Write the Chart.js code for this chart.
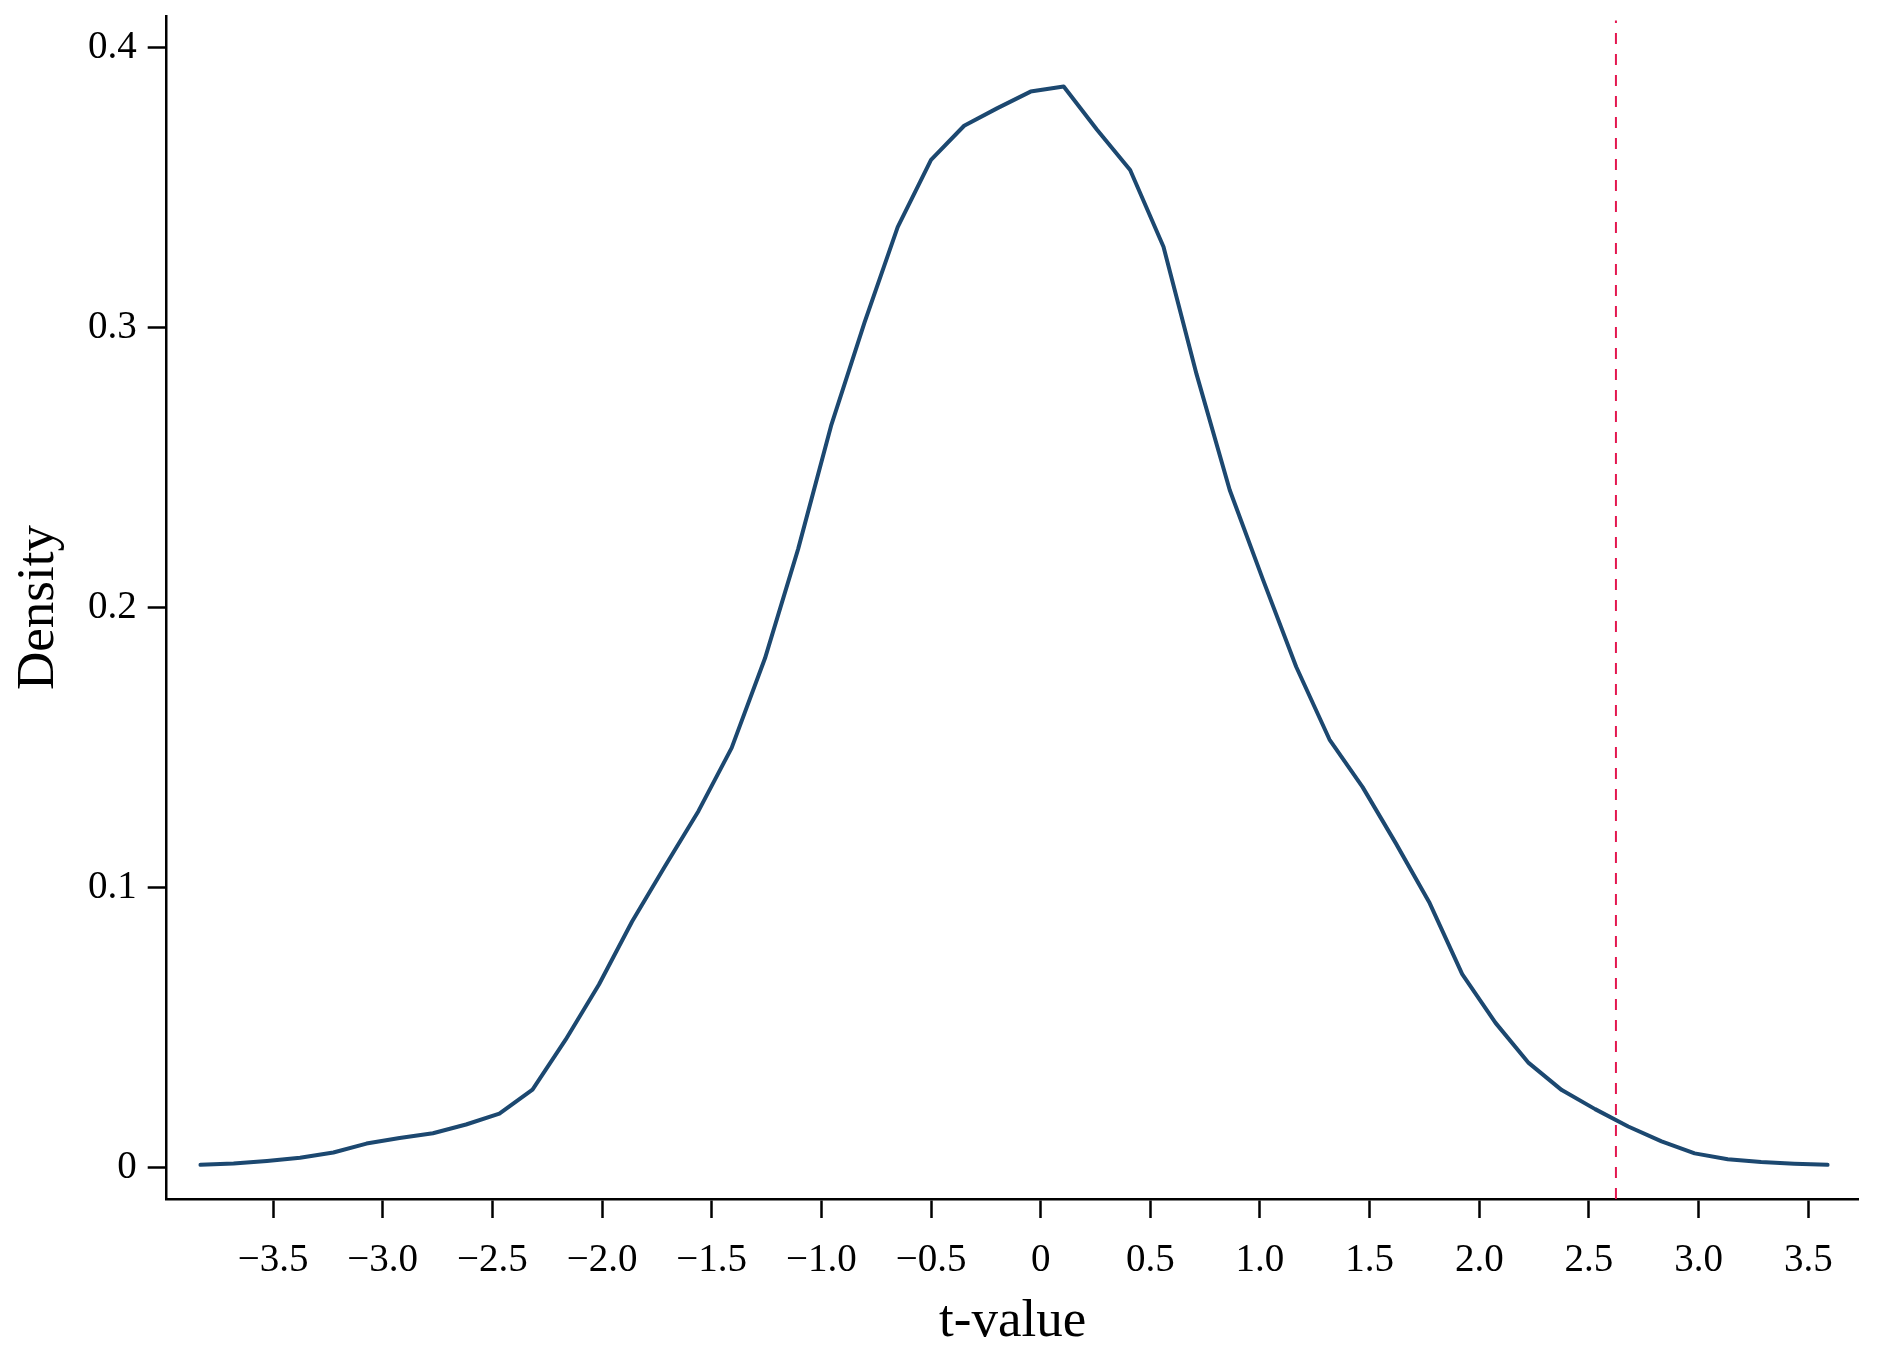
<!DOCTYPE html>
<html>
<head>
<meta charset="utf-8">
<script src="https://cdn.jsdelivr.net/npm/chart.js@4.4.1/dist/chart.umd.min.js"></script>
<style>
  body { margin: 0; background: #fff; }
  #wrap { width: 1880px; height: 1357px; }
</style>
</head>
<body>
<div id="wrap"><canvas id="density_chart"></canvas></div>
<script>
// kernel density of t-values
var tValues = [-3.831, -3.680, -3.528, -3.377, -3.225, -3.074, -2.923, -2.771, -2.620, -2.468,
  -2.317, -2.166, -2.014, -1.863, -1.711, -1.560, -1.409, -1.257, -1.106, -0.954,
  -0.803, -0.652, -0.500, -0.349, -0.197, -0.046, 0.105, 0.257, 0.408, 0.560,
  0.711, 0.862, 1.014, 1.165, 1.317, 1.468, 1.619, 1.771, 1.922, 2.074,
  2.225, 2.376, 2.528, 2.679, 2.831, 2.982, 3.133, 3.285, 3.436, 3.588];
var densityValues = [0.0011, 0.0016, 0.0025, 0.0036, 0.0055, 0.0087, 0.0107, 0.0124, 0.0155, 0.0194,
  0.0280, 0.0458, 0.0655, 0.0880, 0.1080, 0.1275, 0.1500, 0.1820, 0.2210, 0.2655,
  0.3020, 0.3360, 0.3600, 0.3722, 0.3785, 0.3844, 0.3862, 0.3708, 0.3564, 0.3290,
  0.2834, 0.2421, 0.2100, 0.1790, 0.1530, 0.1360, 0.1160, 0.0950, 0.0692, 0.0518,
  0.0375, 0.0278, 0.0210, 0.0148, 0.0095, 0.0052, 0.0031, 0.0021, 0.0015, 0.0011];

// observed t-value (dashed line)
var criticalT = 2.623;

var xTickValues = [-3.5, -3.0, -2.5, -2.0, -1.5, -1.0, -0.5, 0, 0.5, 1.0, 1.5, 2.0, 2.5, 3.0, 3.5];
var yTickValues = [0, 0.1, 0.2, 0.3, 0.4];

var xMin = -3.985, xMax = 3.729;
var yMin = -0.0111, yMax = 0.4114;

var curvePoints = tValues.map(function (t, i) { return {x: t, y: densityValues[i]}; });
var linePoints = [{x: criticalT, y: yMin}, {x: criticalT, y: 0.4098}];

var serif = "'Liberation Serif', 'Times New Roman', serif";

var ctx = document.getElementById('density_chart').getContext('2d');
new Chart(ctx, {
  type: 'scatter',
  data: {
    datasets: [
      {
        data: curvePoints,
        showLine: true,
        borderColor: '#1c4870',
        borderWidth: 4,
        borderJoinStyle: 'round',
        borderCapStyle: 'round',
        pointRadius: 0,
        tension: 0
      },
      {
        data: linePoints,
        showLine: true,
        borderColor: '#e3174f',
        borderWidth: 2,
        borderDash: [11, 10],
        pointRadius: 0
      }
    ]
  },
  options: {
    responsive: true,
    maintainAspectRatio: false,
    animation: false,
    layout: { padding: { top: 16, right: 21.5, left: 0, bottom: 0 } },
    plugins: { legend: { display: false }, tooltip: { enabled: false } },
    scales: {
      x: {
        type: 'linear',
        min: xMin,
        max: xMax,
        afterBuildTicks: function (scale) {
          scale.ticks = xTickValues.map(function (v) { return {value: v}; });
        },
        afterFit: function (scale) {
          scale.height = 158;
          scale.paddingLeft = 0;
          scale.paddingRight = 0;
        },
        grid: { drawOnChartArea: false, drawTicks: true, tickLength: 19, tickWidth: 2.5, tickColor: '#000' },
        border: { display: true, color: '#000', width: 2.5 },
        ticks: {
          padding: 19,
          maxRotation: 0,
          autoSkip: false,
          color: '#000',
          font: { family: serif, size: 39 },
          callback: function (v) {
            if (v === 0) return '0';
            return (v < 0 ? '\u2212' : '') + Math.abs(v).toFixed(1);
          }
        },
        title: {
          display: true,
          text: 't-value',
          color: '#000',
          font: { family: serif, size: 53 },
          padding: { top: 0, bottom: 3 }
        }
      },
      y: {
        type: 'linear',
        min: yMin,
        max: yMax,
        afterBuildTicks: function (scale) {
          scale.ticks = yTickValues.map(function (v) { return {value: v}; });
        },
        afterFit: function (scale) {
          scale.width = 166.7;
          scale.paddingTop = 0;
          scale.paddingBottom = 0;
        },
        grid: { drawOnChartArea: false, drawTicks: true, tickLength: 19, tickWidth: 2.5, tickColor: '#000' },
        border: { display: true, color: '#000', width: 2.5 },
        ticks: {
          padding: 11,
          color: '#000',
          font: { family: serif, size: 39 },
          callback: function (v) { return v === 0 ? '0' : v.toFixed(1); }
        },
        title: {
          display: true,
          text: 'Density',
          color: '#000',
          font: { family: serif, size: 53 },
          padding: { top: 7, bottom: 0 }
        }
      }
    }
  }
});
</script>
</body>
</html>
